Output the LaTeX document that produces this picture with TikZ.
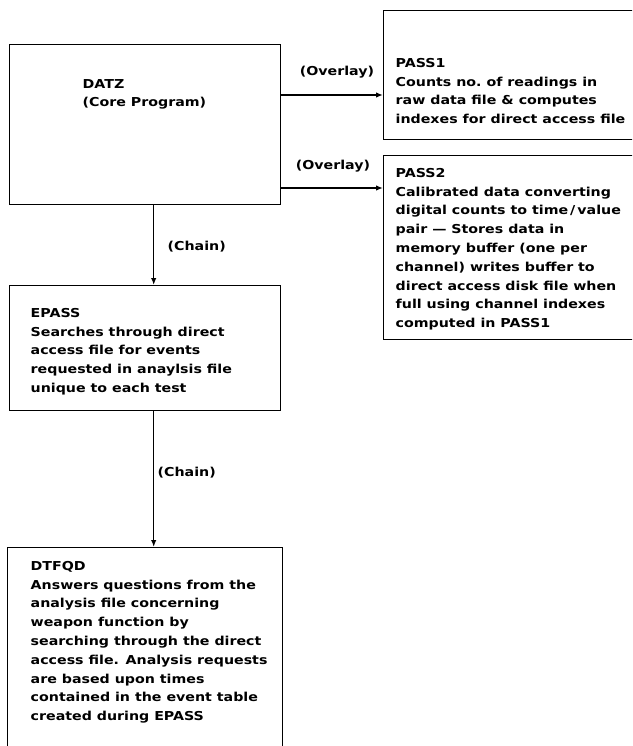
\documentclass[tikz,border=0pt]{standalone}
\usepackage{fontspec}
\newfontfamily\typefont[Ligatures=TeX, FakeStretch=1.155]{DejaVu Sans}
\usetikzlibrary{arrows.meta,positioning}

\begin{document}
\begin{tikzpicture}[x=1pt, y=-1pt, line width=1.4pt,
  box/.style = {draw, anchor=north west, inner sep=0pt},
  txt/.style = {align=left, inner sep=0pt, font=\typefont\bfseries\fontsize{12.3}{18.8}\selectfont},
  lbl/.style = {inner sep=0pt, font=\typefont\bfseries\fontsize{12.3}{14}\selectfont},
  arr/.style = {-{Latex[length=7pt,width=5.5pt]}}]
\useasboundingbox (0,0) rectangle (632,746);
\clip (0,0) rectangle (632,746);
% program boxes
\node[box, minimum width=271, minimum height=160] (datz) at (9,44) {};
\node[box, minimum width=300, minimum height=129] (pass1) at (383,10) {};
\node[box, minimum width=300, minimum height=184] (pass2) at (383,155) {};
\node[box, minimum width=271, minimum height=125] (epass) at (9,285) {};
\node[box, minimum width=275, minimum height=250] (dtfqd) at (7,547) {};
% box texts
\node[txt, below right=34.5pt and 73pt of datz.north west] (datzt) {DATZ\\(Core Program)};
\node[txt, below right=47.5pt and 12pt of pass1.north west] (pass1t) {PASS1\\Counts no.\ of readings in\\raw data file \& computes\\indexes for direct access file};
\node[txt, below right=12.5pt and 12pt of pass2.north west] (pass2t) {PASS2\\Calibrated data converting\\digital counts to time\,/\,value\\pair --- Stores data in\\memory buffer (one per\\channel) writes buffer to\\direct access disk file when\\full using channel indexes\\computed in PASS1};
\node[txt, below right=22.5pt and 21pt of epass.north west] (epasst) {EPASS\\Searches through direct\\access file for events\\requested in anaylsis file\\unique to each test};
\node[txt, below right=13.5pt and 23pt of dtfqd.north west] (dtfqdt) {DTFQD\\Answers questions from the\\analysis file concerning\\weapon function by\\searching through the direct\\access file. Analysis requests\\are based upon times\\contained in the event table\\created during EPASS};
% connector labels
\node[lbl] (ov1) at (337,72) {(Overlay)};
\node[lbl] (ov2) at (333,166) {(Overlay)};
\node[lbl, anchor=west] (ch1) at (167,247) {(Chain)};
\node[lbl, anchor=west] (ch2) at (157,473) {(Chain)};
% connectors
\draw[arr] ([yshift=-51]datz.north east) -- ([yshift=-85]pass1.north west);
\draw[arr] ([yshift=-144]datz.north east) -- ([yshift=-33]pass2.north west);
\draw[arr] ([xshift=8.5]datz.south) -- ([xshift=8.5]epass.north);
\draw[arr] ([xshift=8.5]epass.south) -- ([xshift=8.5]dtfqd.north);
\end{tikzpicture}
\end{document}
